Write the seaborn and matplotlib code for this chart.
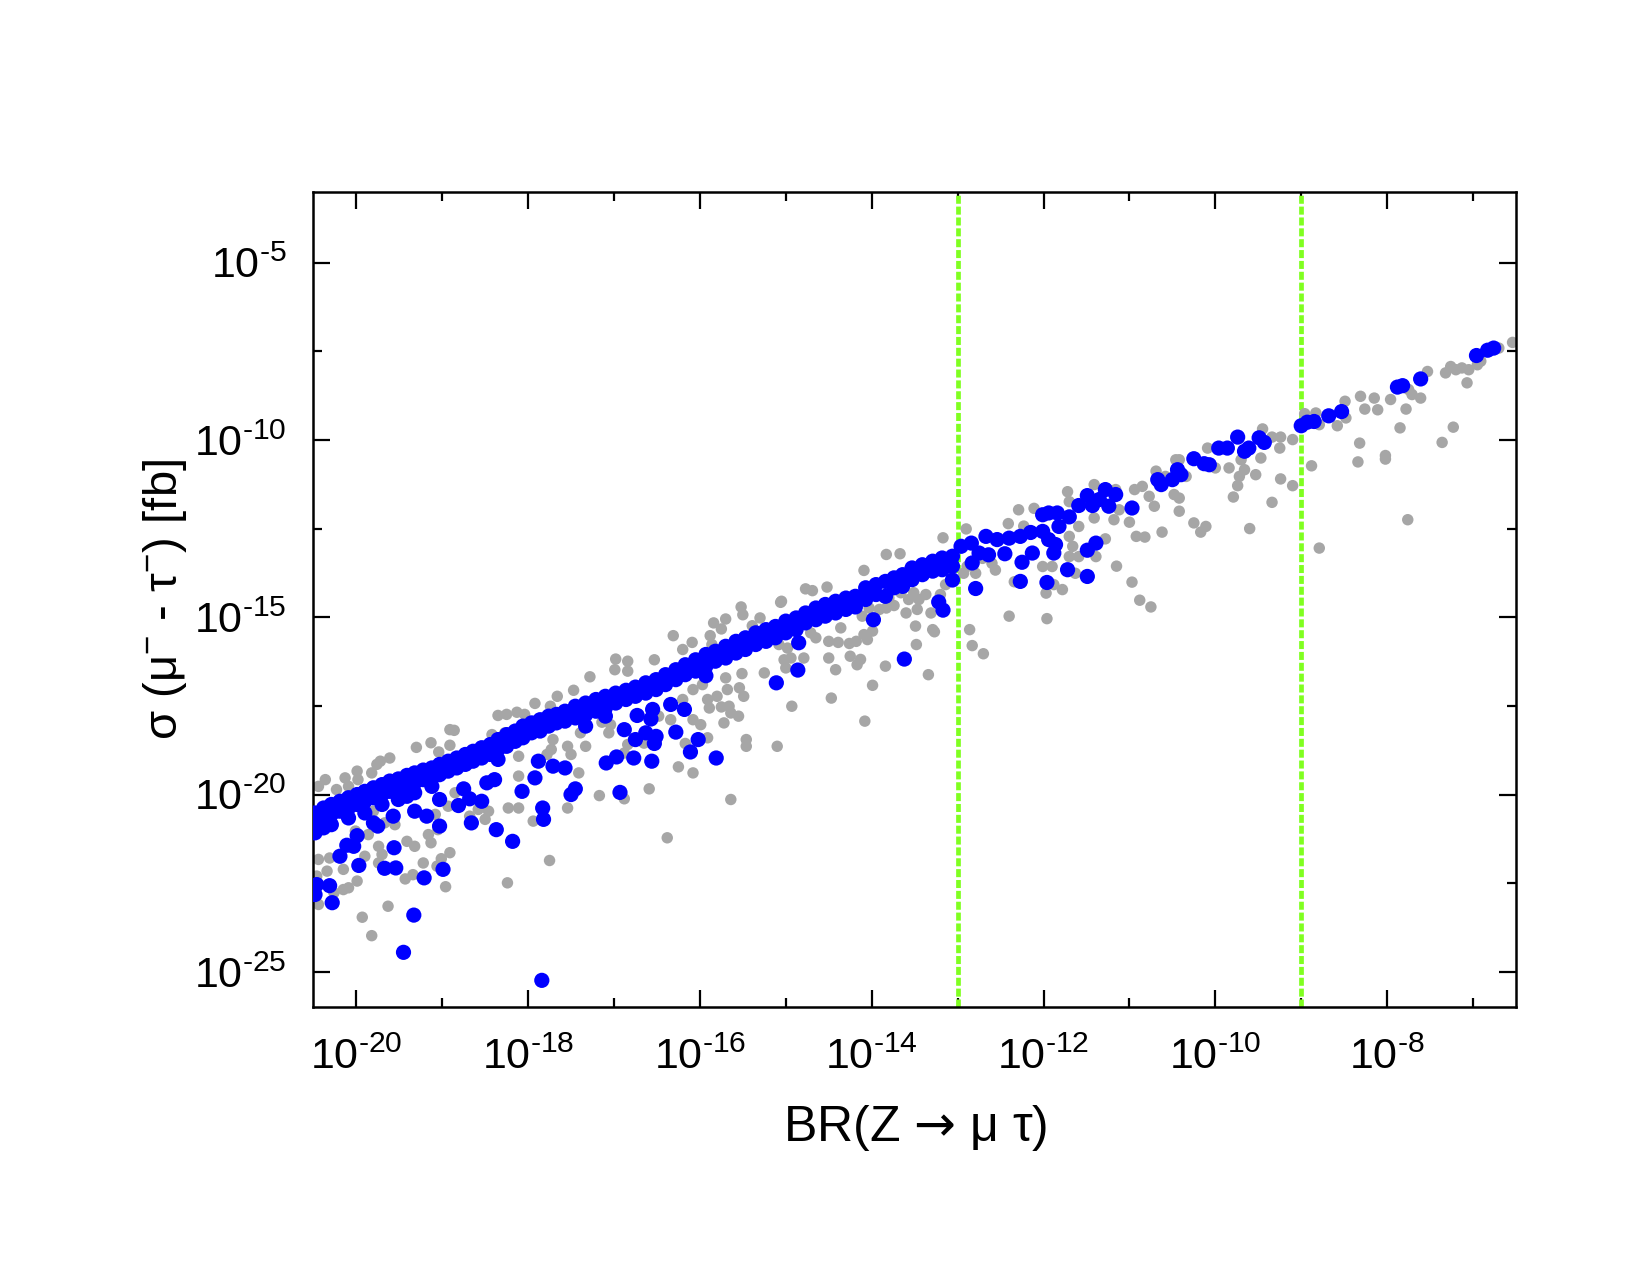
import numpy as np
import pandas as pd
import matplotlib
matplotlib.use("Agg")
import matplotlib.pyplot as plt
import seaborn as sns
from matplotlib.ticker import FixedLocator, FixedFormatter, NullFormatter

# ---------------- data (log10 values) ----------------
blue_log_br = [
    -20.48, -20.48, -20.48, -20.38, -20.38, -20.38, -20.29, -20.29, -20.29, -20.19, -20.19,
    -20.09, -20.09, -20.09, -19.99, -19.99, -19.90, -19.90, -19.90, -19.80, -19.80, -19.80,
    -19.70, -19.70, -19.70, -19.61, -19.61, -19.51, -19.51, -19.51, -19.41, -19.41, -19.41,
    -19.32, -19.32, -19.32, -19.32, -19.22, -19.22, -19.12, -19.12, -19.12, -19.03, -19.03, -19.03,
    -18.93, -18.93, -18.83, -18.83, -18.73, -18.73, -18.64, -18.64, -18.54, -18.54, -18.44, -18.44,
    -18.35, -18.35, -18.35, -18.25, -18.25, -18.15, -18.15, -18.06, -18.06, -17.96, -17.96,
    -17.86, -17.86, -17.76, -17.76, -17.67, -17.67, -17.57, -17.57,
    -20.46, -20.48, -20.31, -20.28, -20.19, -20.11, -20.03, -19.99, -19.97, -19.67, -19.54, -19.56,
    -19.75, -19.57, -19.18, -19.21, -19.33, -18.99, -19.03, -18.81, -18.75, -18.68, -18.54, -18.66,
    -18.37, -18.18, -18.48, -18.39, -18.07, -17.92, -17.83, -17.82, -17.88, -17.71, -17.57,
    -19.45, -17.84,
    -17.45, -17.45, -17.33, -17.33, -17.33, -17.21, -17.21, -17.10, -17.10, -17.10, -16.98, -16.98,
    -16.86, -16.86, -16.75, -16.75, -16.63, -16.63, -16.51, -16.51, -16.40, -16.40, -16.28, -16.28,
    -16.17, -16.17, -16.05, -16.05, -15.93, -15.93, -15.93, -15.82, -15.82, -15.70, -15.70,
    -15.58, -15.58, -15.47, -15.47, -15.35, -15.35, -15.23, -15.23, -15.12, -15.12, -15.00, -15.00,
    -14.88, -14.88,
    -16.88, -16.73, -16.75, -16.63, -16.55, -16.57, -16.51, -16.53, -16.34, -16.28, -16.18, -16.02,
    -16.11, -15.81, -16.56, -16.77, -16.97, -17.09, -17.45, -17.50, -16.93, -15.11, -14.86,
    -14.77, -14.77, -14.65, -14.65, -14.54, -14.54, -14.42, -14.42, -14.30, -14.30, -14.19, -14.19,
    -14.07, -14.07, -13.95, -13.95, -13.84, -13.84, -13.74, -13.74, -13.64, -13.64, -13.53, -13.53,
    -13.41, -13.41, -13.29, -13.29, -13.18, -13.18, -13.06, -13.06, -13.06,
    -14.85, -13.98, -13.62, -13.22, -13.17,
    -12.96, -12.84, -12.75, -12.83, -12.79, -12.67, -12.54, -12.40, -12.27, -12.15, -12.01, -11.94,
    -11.84, -11.70, -11.82, -11.59, -11.49, -11.43, -12.64, -12.45, -12.25, -12.13, -12.27, -11.96,
    -11.72, -11.49, -12.01, -11.94, -11.86, -11.88, -11.49, -11.39, -11.35, -11.28, -11.24, -11.16,
    -10.97, -10.67, -10.63, -10.50, -10.44, -10.40, -10.25, -10.13, -10.07, -9.96, -9.86, -9.74,
    -9.66, -9.61, -9.49, -9.43,
    -9.00, -8.93, -8.85, -8.68, -8.53, -7.88, -7.82, -7.61, -6.96, -6.83, -6.76,
]
blue_log_sigma = [
    -20.52, -20.80, -21.08, -20.38, -20.66, -20.94, -20.28, -20.56, -20.85, -20.19, -20.47,
    -20.09, -20.38, -20.66, -20.00, -20.28, -19.91, -20.19, -20.52, -19.81, -20.09, -20.80,
    -19.72, -20.00, -20.28, -19.62, -19.91, -19.56, -19.84, -20.14, -19.46, -19.75, -20.05,
    -19.39, -19.67, -19.95, -20.47, -19.31, -19.58, -19.25, -19.53, -19.77, -19.15, -19.44, -20.14,
    -19.06, -19.34, -18.97, -19.25, -18.87, -19.15, -18.78, -19.06, -18.68, -18.97, -18.59, -18.87,
    -18.45, -18.73, -19.01, -18.31, -18.64, -18.21, -18.50, -18.07, -18.40, -17.98, -18.26,
    -17.89, -18.21, -17.79, -18.07, -17.74, -17.98, -17.65, -17.93,
    -22.54, -22.82, -22.57, -23.05, -21.74, -21.43, -21.46, -21.16, -22.00, -22.08, -22.07, -21.50,
    -20.89, -20.61, -20.61, -22.35, -23.40, -22.11, -20.89, -20.31, -19.84, -20.12, -20.19, -20.80,
    -20.99, -21.32, -19.67, -19.58, -19.91, -19.53, -20.38, -20.70, -19.06, -19.20, -19.25,
    -24.45, -25.24,
    -17.51, -17.84, -17.42, -17.75, -18.07, -17.32, -17.65, -17.23, -17.56, -17.79, -17.14, -17.42,
    -17.06, -17.32, -16.97, -17.23, -16.85, -17.14, -16.76, -17.04, -16.62, -16.90, -16.48, -16.76,
    -16.34, -16.62, -16.20, -16.52, -16.05, -16.38, -16.65, -15.96, -16.24, -15.82, -16.15,
    -15.68, -16.01, -15.58, -15.91, -15.44, -15.77, -15.35, -15.68, -15.26, -15.58, -15.11, -15.44,
    -15.02, -15.35,
    -18.17, -17.77, -18.45, -18.26, -17.60, -17.87, -18.36, -18.56, -17.46, -18.24, -17.60, -18.45,
    -18.80, -18.97, -19.06, -18.97, -18.94, -19.11, -19.84, -20.00, -19.94, -16.85, -16.49,
    -14.88, -15.16, -14.74, -15.07, -14.64, -14.97, -14.55, -14.88, -14.46, -14.78, -14.41, -14.71,
    -14.17, -14.50, -14.08, -14.36, -13.99, -14.41, -13.89, -14.17, -13.80, -14.13, -13.61, -13.94,
    -13.52, -13.80, -13.42, -13.70, -13.33, -13.66, -13.28, -13.56, -13.95,
    -15.72, -15.07, -16.18, -14.57, -14.80,
    -13.00, -12.91, -13.19, -13.47, -14.19, -12.72, -12.81, -12.77, -12.72, -12.61, -12.11, -12.06,
    -12.06, -12.17, -12.44, -11.85, -11.57, -11.85, -13.24, -13.21, -13.45, -13.19, -13.99, -14.02,
    -13.66, -13.85, -12.58, -12.81, -12.95, -13.19, -13.11, -12.91, -11.68, -11.40, -11.87, -11.54,
    -11.92, -11.12, -11.26, -11.12, -10.84, -10.98, -10.53, -10.67, -10.70, -10.23, -10.23, -9.92,
    -10.32, -10.23, -9.94, -10.07,
    -9.60, -9.50, -9.48, -9.32, -9.20, -8.51, -8.47, -8.28, -7.62, -7.47, -7.41,
]

gray_log_br = [
    -20.44, -20.36, -20.23, -20.13, -19.99, -19.82, -19.72, -19.61, -19.30, -19.13, -19.04, -18.91,
    -18.86, -18.91, -18.35, -18.25, -18.13, -18.04, -17.92, -17.74, -18.42, -18.27, -17.73, -17.71,
    -18.11, -18.11, -18.23, -18.11, -17.94, -17.75, -18.24, -18.50, -18.46, -18.68, -18.85, -19.08,
    -19.16, -19.13, -19.32, -19.41, -19.74, -19.70, -19.74, -19.90, -20.01, -19.86, -19.67, -19.55,
    -19.80, -20.15, -20.34, -20.44, -20.31, -20.15, -20.09, -19.99, -20.26, -20.44, -19.93, -19.63,
    -19.82, -19.43, -19.34, -19.22, -19.06, -19.01, -18.91, -18.96, -19.05, -18.93, -18.58, -20.09,
    -19.76, -19.98, -20.46,
    -16.31, -16.09, -15.88, -15.86, -15.84, -15.70, -15.75, -15.52, -15.50, -15.30, -15.06, -15.39,
    -16.20, -16.53, -16.84, -16.98, -16.99, -16.84, -17.28, -17.47, -17.66, -15.02, -15.00,
    -15.25, -15.51, -15.70, -15.68, -15.54, -15.49, -15.80, -15.91, -15.89, -15.75, -15.66, -15.64,
    -15.55, -15.72, -15.99, -16.08, -15.91, -15.46, -15.46, -15.10, -14.93, -16.17, -16.08, -16.25,
    -16.59, -17.17, -16.88, -17.54, -15.64, -16.38, -17.41, -17.33, -17.50, -17.54, -17.78,
    -17.06, -16.84, -16.88, -16.65, -17.14, -16.48, -16.34, -16.20, -16.08, -15.97, -17.39, -17.04,
    -13.83, -13.67, -14.09, -13.17, -12.90, -12.41, -12.23, -14.77, -14.69, -14.52, -15.05,
    -12.40, -12.86, -12.83, -12.70, -13.34, -13.99, -14.47, -14.08, -13.84, -14.17, -14.13, -14.25,
    -14.50, -14.42, -14.79, -14.50, -14.39, -14.26, -14.18, -14.09, -14.05, -13.99, -14.65, -14.71,
    -14.36, -14.11, -14.03, -13.91, -13.83, -13.60, -13.49, -13.47, -13.48, -13.31, -13.29, -13.27,
    -13.37, -13.45, -13.51, -13.66, -13.57, -13.20, -13.10, -13.14, -13.80, -13.74, -15.04, -14.98,
    -15.08, -14.94,
    -12.29, -12.11, -11.72, -11.70, -11.59, -11.70, -11.66, -11.70, -11.59, -11.41, -11.41, -11.39,
    -12.56, -12.60, -12.71, -12.79, -12.34, -12.01, -11.90, -11.97, -11.78, -11.88, -11.63, -12.93,
    -12.89, -11.96,
    -11.16, -11.18, -11.12, -11.00, -10.94, -10.85, -10.77, -10.71, -10.69, -10.58, -10.46, -10.42,
    -10.34, -10.48, -10.42, -10.42, -10.25, -10.11, -10.17, -10.62, -10.92, -10.82, -11.15, -11.28,
    -10.97, -10.88, -10.75, -10.09, -10.00, -9.84, -9.70, -9.66, -9.72, -9.74, -9.53, -9.47,
    -9.45, -9.79, -9.60, -9.34,
    -9.34, -9.24, -9.25, -9.10, -8.96, -8.83, -8.79, -8.58, -8.48, -8.49, -8.31, -8.26, -8.15,
    -8.11, -7.96, -7.78, -7.85, -8.32, -8.34, -8.02, -8.02, -7.75, -7.71, -7.61, -7.53, -7.32,
    -7.26, -7.20, -7.13, -7.05, -7.07, -7.23, -7.36, -6.95, -6.91, -6.70, -6.54, -8.88, -9.24,
    -9.10, -7.76, -8.79,
]
gray_log_sigma = [
    -19.77, -19.58, -19.86, -19.53, -19.34, -19.39, -19.06, -18.97, -18.67, -18.54, -18.80, -18.17,
    -18.19, -18.61, -17.77, -17.74, -17.68, -17.74, -17.43, -17.51, -18.31, -18.26, -18.73, -18.45,
    -18.92, -19.48, -20.38, -20.38, -20.75, -21.86, -22.49, -20.70, -20.47, -20.61, -19.95, -20.56,
    -21.13, -21.36, -21.46, -21.32, -21.46, -21.69, -21.93, -21.74, -21.03, -21.13, -20.80, -20.85,
    -20.47, -22.11, -22.16, -21.83, -21.79, -22.68, -22.63, -22.44, -22.77, -23.10, -23.46, -23.15,
    -23.98, -22.38, -22.26, -21.93, -22.02, -21.81, -21.64, -22.60, -20.99, -20.33, -20.42, -19.77,
    -19.15, -19.58, -22.30,
    -15.52, -15.71, -15.52, -15.77, -15.16, -15.05, -15.33, -14.71, -14.93, -15.02, -14.58, -15.24,
    -15.91, -16.20, -16.24, -16.18, -16.48, -16.52, -16.68, -17.06, -17.23, -16.20, -16.43,
    -16.57, -16.59, -16.71, -17.04, -16.99, -17.23, -17.23, -17.32, -17.56, -17.53, -17.51, -17.70,
    -17.79, -17.98, -18.03, -17.89, -18.40, -18.45, -18.64, -18.64, -17.51, -18.56, -19.39, -19.22,
    -19.84, -20.03, -20.12, -20.38, -20.14, -21.22, -19.39, -18.64, -18.87, -18.64, -18.87,
    -18.26, -18.59, -18.83, -18.55, -17.96, -17.79, -17.89, -17.32, -17.04, -16.90, -18.26, -18.03,
    -13.23, -13.21, -13.68, -12.76, -12.51, -12.36, -12.43, -14.20, -14.25, -14.15, -14.55,
    -14.97, -15.35, -15.80, -16.03, -16.62, -16.92, -17.28, -17.93, -16.38, -16.34, -16.19, -16.10,
    -16.15, -16.48, -16.15, -15.68, -15.71, -15.74, -15.68, -15.49, -15.63, -15.39, -15.58, -15.44,
    -15.30, -14.97, -14.74, -14.78, -14.74, -14.88, -15.25, -14.78, -15.77, -14.88, -15.35, -15.41,
    -14.36, -14.50, -14.31, -14.31, -14.50, -14.36, -13.70, -14.08, -14.46, -14.67, -15.49, -15.87,
    -15.77, -16.15,
    -11.97, -11.93, -11.46, -11.74, -12.44, -12.72, -13.00, -13.29, -13.29, -11.26, -12.20, -13.29,
    -13.67, -13.48, -13.34, -13.76, -14.00, -13.57, -13.57, -14.32, -14.22, -14.08, -13.76, -13.76,
    -13.57, -15.04,
    -11.40, -12.25, -11.97, -12.32, -11.40, -11.31, -11.59, -11.87, -10.88, -11.03, -10.56, -10.56,
    -11.03, -11.54, -11.64, -12.01, -12.34, -12.44, -12.60, -12.60, -12.72, -12.74, -13.56, -12.79,
    -14.01, -14.52, -14.71, -10.23, -10.79, -10.79, -10.56, -10.84, -11.03, -11.29, -10.98, -10.51,
    -9.69, -11.61, -12.50, -11.76,
    -9.92, -9.92, -10.23, -9.99, -9.26, -9.24, -9.57, -9.60, -9.38, -8.91, -8.77, -9.13, -8.82,
    -9.15, -8.86, -9.13, -9.66, -10.09, -10.62, -10.44, -10.54, -8.58, -8.72, -8.82, -8.07, -8.11,
    -7.93, -8.02, -7.97, -8.02, -8.39, -9.64, -10.07, -7.88, -7.78, -7.41, -7.25, -10.73, -11.10,
    -11.29, -12.25, -13.05,
]

limit_lines_br = [1e-13, 1e-9]
x_major_exp = [-20, -18, -16, -14, -12, -10, -8]
x_minor_exp = [-19, -17, -15, -13, -11, -9, -7]
y_major_exp = [-25, -20, -15, -10, -5]
y_minor_exp = [-22.5, -17.5, -12.5, -7.5]
x_label = r"BR(Z $\mathcal{→}$ μ τ)"
y_label = "σ (μ$^{-}$ - τ$^{-}$) [fb]"

# ---------------- style ----------------
sns.set_theme(style="ticks")
plt.rcParams['font.family'] = ['Liberation Sans', 'DejaVu Sans']
plt.rcParams['mathtext.fontset'] = 'custom'
plt.rcParams['mathtext.rm'] = 'Liberation Sans'
plt.rcParams['mathtext.it'] = 'Liberation Sans:italic'
plt.rcParams['mathtext.bf'] = 'Liberation Sans:bold'
plt.rcParams['mathtext.cal'] = 'DejaVu Sans'
for key in ['text.color', 'axes.labelcolor', 'xtick.color', 'ytick.color', 'axes.edgecolor']:
    plt.rcParams[key] = 'black'

fig = plt.figure(figsize=(16.5, 12.75), dpi=100)
ax = fig.add_axes([313.3 / 1650, 1 - 1007.3 / 1275, (1516 - 313.3) / 1650, (1007.3 - 191.7) / 1275])

gray_df = pd.DataFrame({"BR": 10.0 ** np.array(gray_log_br), "sigma": 10.0 ** np.array(gray_log_sigma)})
blue_df = pd.DataFrame({"BR": 10.0 ** np.array(blue_log_br), "sigma": 10.0 ** np.array(blue_log_sigma)})

for xv in limit_lines_br:
    ax.axvline(xv, color="#80ff20", lw=3.4, ls=(0, (1.7, 0.6)), zorder=1)

sns.scatterplot(data=gray_df, x="BR", y="sigma", ax=ax, color="#a6a6a6", s=68,
                linewidth=0, edgecolor="none", zorder=2)
sns.scatterplot(data=blue_df, x="BR", y="sigma", ax=ax, color="#0000ff", s=120,
                linewidth=0, edgecolor="none", zorder=3)

ax.set_xscale("log")
ax.set_yscale("log")
ax.set_xlim(10 ** -20.5, 10 ** -6.5)
ax.set_ylim(1e-26, 1e-3)


def exp_label(e):
    return r"$10^{\text{-}%d}$" % abs(e)


ax.xaxis.set_major_locator(FixedLocator([10.0 ** e for e in x_major_exp]))
ax.xaxis.set_major_formatter(FixedFormatter([exp_label(e) for e in x_major_exp]))
ax.xaxis.set_minor_locator(FixedLocator([10.0 ** e for e in x_minor_exp]))
ax.xaxis.set_minor_formatter(NullFormatter())
ax.yaxis.set_major_locator(FixedLocator([10.0 ** e for e in y_major_exp]))
ax.yaxis.set_major_formatter(FixedFormatter([exp_label(e) for e in y_major_exp]))
ax.yaxis.set_minor_locator(FixedLocator([10.0 ** e for e in y_minor_exp]))
ax.yaxis.set_minor_formatter(NullFormatter())

ax.tick_params(which="both", direction="in", top=True, right=True, color="black", width=1.6)
ax.tick_params(which="major", length=12, labelsize=31)
ax.tick_params(which="minor", length=6.5)
ax.tick_params(axis="x", which="major", pad=22)
ax.tick_params(axis="y", which="major", pad=19)

for sp in ax.spines.values():
    sp.set_linewidth(1.8)
    sp.set_color("black")

ax.set_xlabel(x_label, fontsize=36)
ax.set_ylabel(y_label, fontsize=34)
ax.xaxis.set_label_coords(0.5, -0.117)
ax.yaxis.set_label_coords(-0.103, 0.5)

fig.savefig("out.png", dpi=100, facecolor="white")
